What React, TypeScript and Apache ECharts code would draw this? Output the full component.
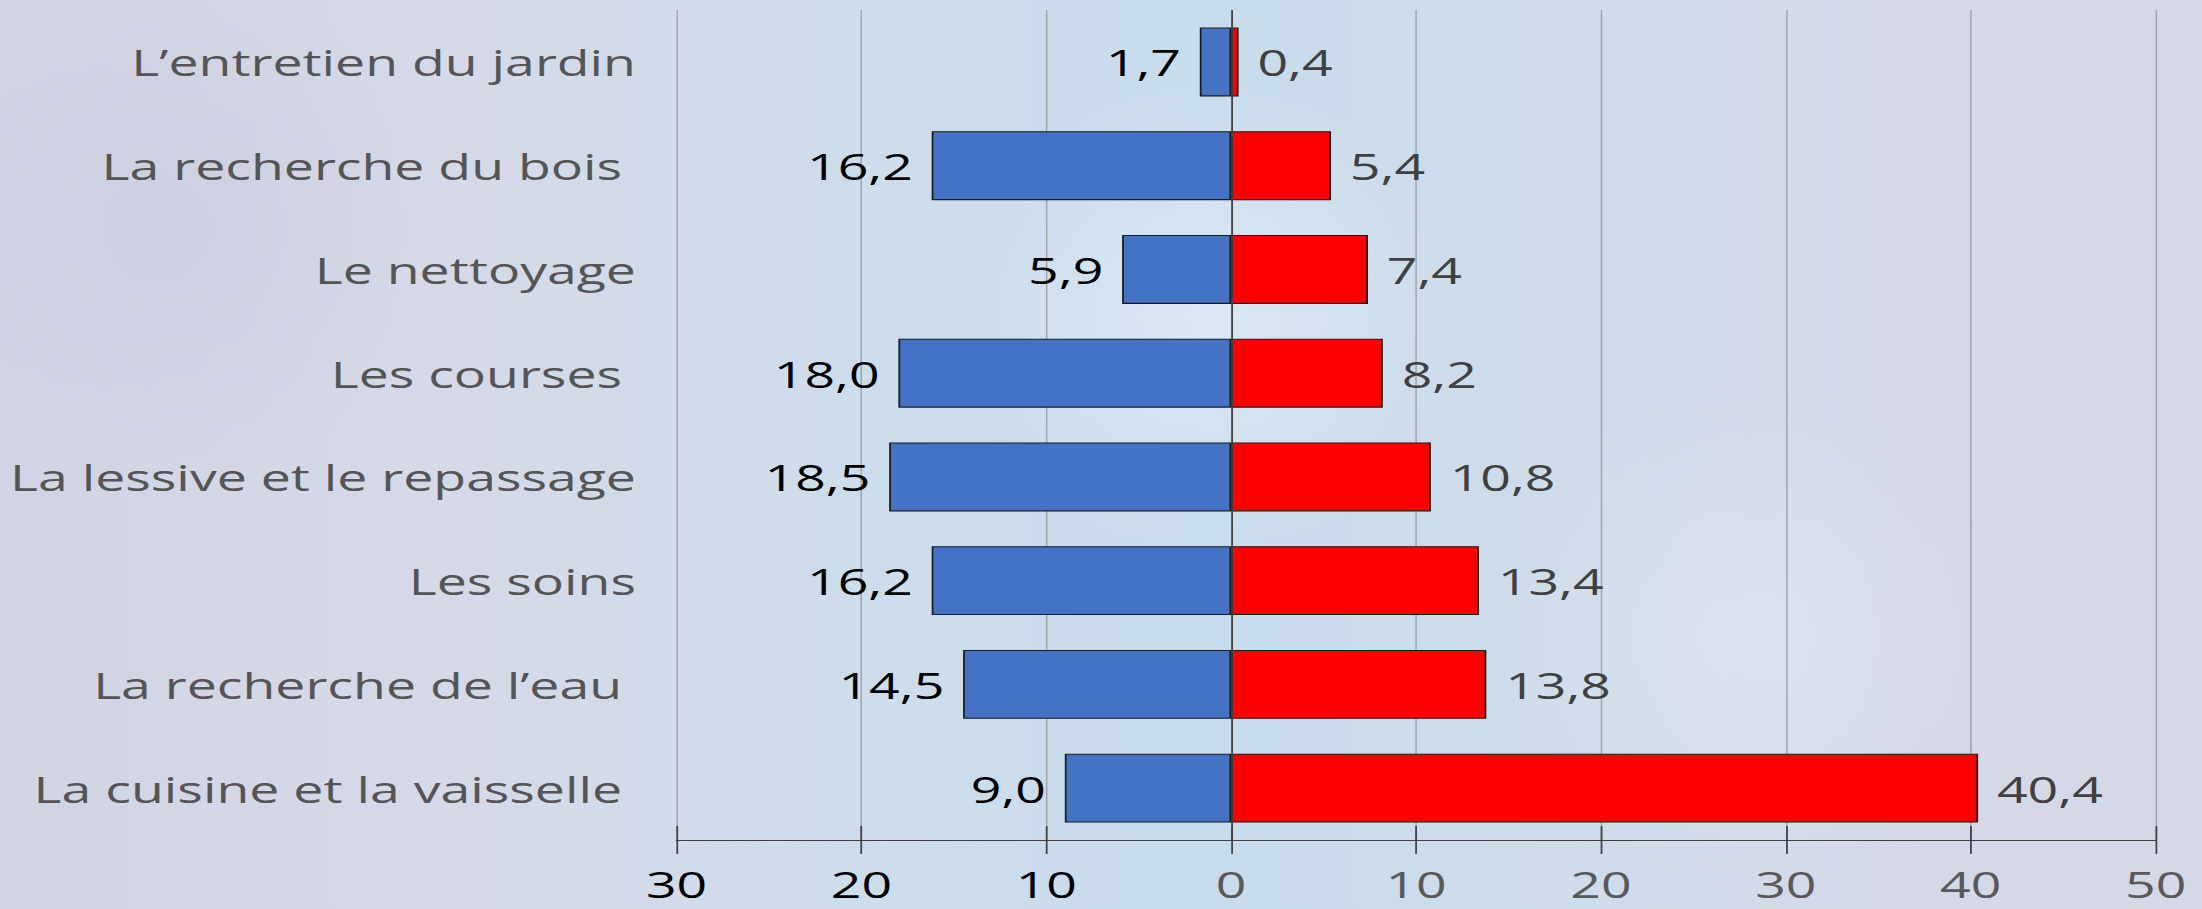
import React, { useEffect, useRef } from "react";
import * as echarts from "echarts";

const categories = [
  "L’entretien du jardin",
  "La recherche du bois ",
  "Le nettoyage",
  "Les courses ",
  "La lessive et le repassage",
  "Les soins",
  "La recherche de l’eau ",
  "La cuisine et la vaisselle ",
];
const blueValues = [1.7, 16.2, 5.9, 18.0, 18.5, 16.2, 14.5, 9.0];
const redValues = [0.4, 5.4, 7.4, 8.2, 10.8, 13.4, 13.8, 40.4];
const axisMin = -30;
const axisMax = 50;
const axisStep = 10;

const PAGE_W = 2202;
const PAGE_H = 909;
const INNER_W = 1520;
const STRETCH = PAGE_W / INNER_W;

const fmt = (v: number) => Math.abs(v).toFixed(1).replace(".", ",");

export default function App() {
  const ref = useRef<HTMLDivElement>(null);
  useEffect(() => {
    document.body.style.margin = "0";
    const chart = echarts.init(ref.current!, null, { renderer: "svg" });
    const font = "'Open Sans', sans-serif";
    chart.setOption({
      animation: false,
      textStyle: { fontFamily: font },
      grid: { left: 467, right: 32, top: 10, bottom: 69, containLabel: false },
      xAxis: [
        {
          type: "value",
          min: axisMin,
          max: axisMax,
          interval: axisStep,
          axisLine: { show: true, lineStyle: { color: "#404040", width: 1.2 } },
          axisTick: { show: true, length: 14, lineStyle: { color: "#404040", width: 1.2 } },
          splitLine: { show: true, lineStyle: { color: "#a3a3a3", width: 1 } },
          axisLabel: {
            margin: 29,
            fontSize: 37,
            lineHeight: 30,
            fontFamily: font,
            formatter: (v: number) => (v < 0 ? `{n|${Math.abs(v)}}` : `{p|${v}}`),
            rich: {
              n: { color: "#000000", fontSize: 37, lineHeight: 30, fontFamily: font },
              p: { color: "#595959", fontSize: 37, lineHeight: 30, fontFamily: font },
            },
          },
        },
        {
          type: "value",
          position: "bottom",
          min: axisMin,
          max: axisMax,
          interval: axisStep,
          axisLine: { show: false },
          axisTick: { show: true, inside: true, length: 14, lineStyle: { color: "#404040", width: 1.2 } },
          splitLine: { show: false },
          axisLabel: { show: false },
        },
      ],
      yAxis: {
        type: "category",
        inverse: true,
        data: categories,
        axisLine: { show: false },
        axisTick: { show: false },
        splitLine: { show: false },
        axisLabel: { margin: 28, fontSize: 37, color: "#555555", fontFamily: font },
      },
      series: [
        {
          type: "bar",
          name: "blue",
          data: blueValues.map((v) => -v),
          barWidth: 69,
          barGap: "-100%",
          itemStyle: { color: "#4472C4", borderColor: "#1a1a1a", borderWidth: 1.2 },
          label: {
            show: true,
            position: "left",
            distance: 13,
            fontSize: 37,
            color: "#000000",
            fontFamily: font,
            formatter: (p: any) => fmt(p.value),
          },
        },
        {
          type: "bar",
          name: "red",
          data: redValues,
          barWidth: 69,
          barGap: "-100%",
          itemStyle: { color: "#FF0000", borderColor: "#1a1a1a", borderWidth: 1.2 },
          label: {
            show: true,
            position: "right",
            distance: 13,
            fontSize: 37,
            color: "#404040",
            fontFamily: font,
            formatter: (p: any) => fmt(p.value),
          },
          markLine: {
            silent: true,
            symbol: ["none", "none"],
            label: { show: false },
            lineStyle: { color: "#404040", width: 1.2, type: "solid" },
            data: [{ xAxis: 0 }],
          },
        },
      ],
    });
    return () => chart.dispose();
  }, []);

  const bg = [
    "radial-gradient(circle at 55% 35%, rgba(235,242,248,0.55) 0, rgba(235,242,248,0) 18%)",
    "radial-gradient(circle at 80% 70%, rgba(235,240,248,0.35) 0, rgba(235,240,248,0) 14%)",
    "radial-gradient(circle at 8% 25%, rgba(190,196,214,0.35) 0, rgba(190,196,214,0) 12%)",
    "linear-gradient(90deg, #d1d4e3 0%, #d6d9e7 20%, #cdddeb 40%, #c8dcec 55%, #cfdce9 72%, #d5d8e7 88%, #d6d8e6 100%)",
  ].join(",");

  return (
    <div
      style={{
        position: "fixed",
        left: 0,
        top: 0,
        width: PAGE_W,
        height: PAGE_H,
        overflow: "hidden",
        background: bg,
      }}
    >
      <div
        ref={ref}
        style={{
          width: INNER_W,
          height: PAGE_H,
          transform: `scaleX(${STRETCH})`,
          transformOrigin: "0 0",
        }}
      />
    </div>
  );
}
